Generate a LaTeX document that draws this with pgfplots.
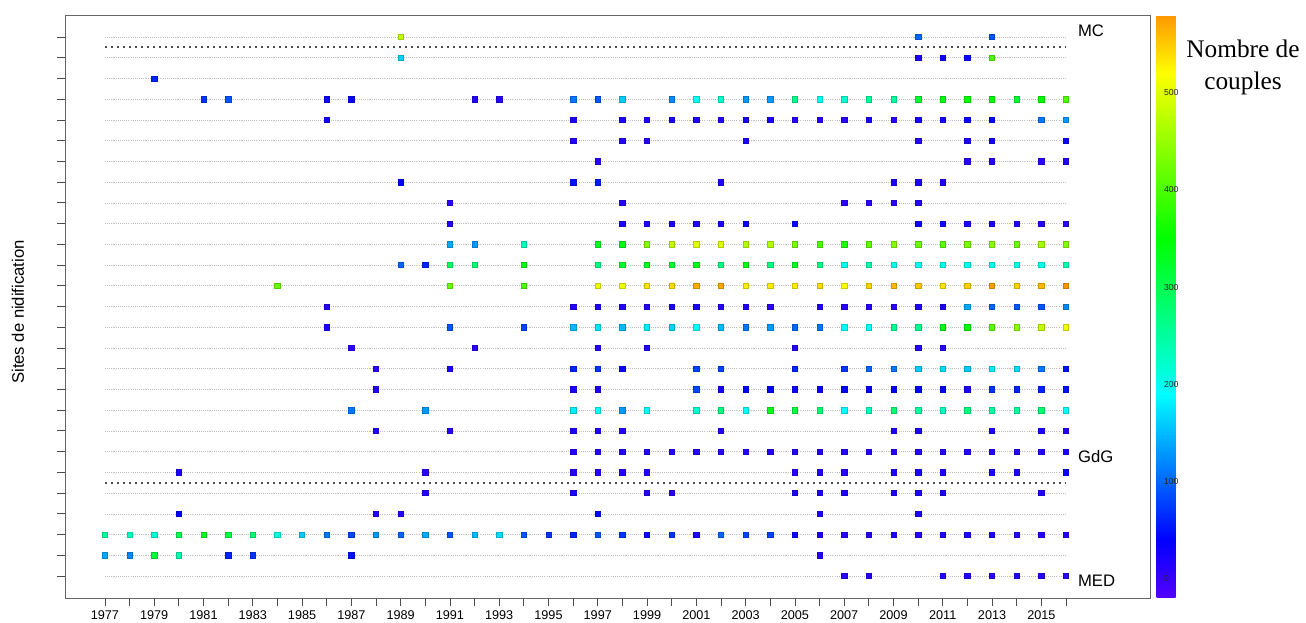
\documentclass[border=0pt]{standalone}
\usepackage{fontspec}
\setmainfont{Liberation Sans}
\newfontfamily\seriffont{Liberation Serif}
\usepackage{pgfplots}
\pgfplotsset{compat=1.18}
\usepackage{pgfplotstable}

\pgfplotstableread{
x y c
2007 0 15
2008 0 15
2011 0 15
2012 0 15
2013 0 15
2014 0 15
2015 0 15
2016 0 15
1977 1 140
1978 1 120
1979 1 310
1980 1 240
1982 1 60
1983 1 70
1987 1 50
2006 1 15
1977 2 250
1978 2 230
1979 2 215
1980 2 300
1981 2 330
1982 2 310
1983 2 280
1984 2 210
1985 2 160
1986 2 110
1987 2 80
1988 2 130
1989 2 100
1990 2 140
1991 2 90
1992 2 150
1993 2 170
1994 2 90
1995 2 70
1996 2 60
1997 2 90
1998 2 70
1999 2 30
2000 2 70
2001 2 20
2002 2 100
2003 2 80
2004 2 80
2005 2 30
2006 2 20
2007 2 15
2008 2 15
2009 2 20
2010 2 15
2011 2 20
2012 2 20
2013 2 20
2014 2 15
2015 2 15
2016 2 15
1980 3 40
1988 3 15
1989 3 15
1997 3 45
2006 3 20
2010 3 20
1990 4 15
1996 4 20
1999 4 15
2000 4 10
2005 4 20
2006 4 20
2007 4 20
2009 4 20
2010 4 20
2011 4 20
2015 4 15
1980 5 20
1990 5 10
1996 5 15
1997 5 15
1998 5 15
1999 5 15
2005 5 15
2006 5 15
2007 5 15
2009 5 20
2010 5 20
2011 5 20
2013 5 20
2014 5 20
2016 5 30
1996 6 15
1997 6 15
1998 6 15
1999 6 15
2000 6 15
2001 6 15
2002 6 15
2003 6 15
2004 6 15
2005 6 15
2006 6 15
2007 6 15
2008 6 15
2009 6 15
2010 6 15
2011 6 15
2012 6 15
2013 6 15
2014 6 15
2015 6 15
2016 6 20
1988 7 15
1991 7 15
1996 7 20
1997 7 20
1998 7 15
2002 7 15
2009 7 20
2010 7 20
2013 7 20
2015 7 20
2016 7 15
1987 8 110
1990 8 130
1996 8 180
1997 8 190
1998 8 130
1999 8 190
2001 8 220
2002 8 270
2003 8 190
2004 8 330
2005 8 310
2006 8 280
2007 8 190
2008 8 230
2009 8 280
2010 8 250
2011 8 230
2012 8 270
2013 8 250
2014 8 250
2015 8 280
2016 8 190
1988 9 15
1996 9 20
1997 9 20
2001 9 80
2002 9 25
2003 9 40
2004 9 40
2005 9 30
2006 9 30
2007 9 40
2008 9 40
2009 9 40
2010 9 40
2011 9 40
2012 9 20
2013 9 70
2014 9 60
2015 9 60
2016 9 50
1988 10 10
1991 10 20
1996 10 60
1997 10 70
1998 10 30
2001 10 80
2002 10 80
2005 10 60
2007 10 70
2008 10 100
2009 10 110
2010 10 160
2011 10 170
2012 10 160
2013 10 180
2014 10 170
2015 10 110
2016 10 50
1987 11 10
1992 11 10
1997 11 15
1999 11 15
2005 11 15
2010 11 15
2011 11 15
1986 12 20
1991 12 90
1994 12 80
1996 12 150
1997 12 175
1998 12 150
1999 12 180
2000 12 165
2001 12 190
2002 12 150
2003 12 110
2004 12 130
2005 12 100
2006 12 110
2007 12 190
2008 12 190
2009 12 260
2010 12 260
2011 12 340
2012 12 350
2013 12 410
2014 12 440
2015 12 480
2016 12 510
1986 13 15
1996 13 15
1997 13 20
1998 13 15
1999 13 15
2000 13 20
2001 13 20
2002 13 15
2003 13 15
2004 13 10
2006 13 15
2007 13 15
2008 13 15
2009 13 10
2010 13 20
2011 13 20
2012 13 140
2013 13 100
2014 13 90
2015 13 90
2016 13 120
1984 14 420
1991 14 420
1994 14 400
1997 14 510
1998 14 510
1999 14 535
2000 14 540
2001 14 565
2002 14 570
2003 14 530
2004 14 530
2005 14 530
2006 14 540
2007 14 520
2008 14 545
2009 14 560
2010 14 550
2011 14 535
2012 14 545
2013 14 575
2014 14 545
2015 14 560
2016 14 580
1989 15 100
1990 15 60
1991 15 290
1992 15 280
1994 15 340
1997 15 270
1998 15 320
1999 15 330
2000 15 320
2001 15 330
2002 15 270
2003 15 340
2004 15 270
2005 15 330
2006 15 270
2007 15 200
2008 15 240
2009 15 200
2010 15 200
2011 15 200
2012 15 200
2013 15 200
2014 15 200
2015 15 200
2016 15 240
1991 16 140
1992 16 130
1994 16 230
1997 16 330
1998 16 340
1999 16 440
2000 16 480
2001 16 500
2002 16 500
2003 16 470
2004 16 470
2005 16 430
2006 16 400
2007 16 370
2008 16 410
2009 16 440
2010 16 420
2011 16 410
2012 16 430
2013 16 440
2014 16 420
2015 16 460
2016 16 440
1991 17 15
1998 17 20
1999 17 20
2000 17 25
2001 17 20
2002 17 20
2003 17 30
2005 17 30
2010 17 30
2011 17 30
2012 17 20
2013 17 25
2014 17 20
2015 17 15
2016 17 15
1991 18 10
1998 18 15
2007 18 10
2008 18 10
2009 18 10
2010 18 15
1989 19 40
1996 19 50
1997 19 55
2002 19 20
2009 19 20
2010 19 20
2011 19 20
1997 20 15
2012 20 10
2013 20 15
2015 20 10
2016 20 15
1996 21 15
1998 21 15
1999 21 15
2003 21 20
2010 21 15
2012 21 20
2013 21 25
2016 21 30
1986 22 25
1996 22 20
1998 22 20
1999 22 15
2000 22 25
2001 22 20
2002 22 15
2003 22 20
2004 22 20
2005 22 15
2006 22 10
2007 22 15
2008 22 20
2009 22 15
2010 22 20
2011 22 25
2012 22 30
2013 22 40
2015 22 110
2016 22 130
1981 23 70
1982 23 90
1986 23 30
1987 23 35
1992 23 15
1993 23 15
1996 23 110
1997 23 90
1998 23 160
2000 23 120
2001 23 200
2002 23 220
2003 23 130
2004 23 130
2005 23 260
2006 23 200
2007 23 220
2008 23 250
2009 23 250
2010 23 320
2011 23 340
2012 23 350
2013 23 350
2014 23 320
2015 23 350
2016 23 400
1979 24 60
1989 25 165
2010 25 20
2011 25 30
2012 25 30
2013 25 400
1989 26 480
2010 26 100
2013 26 90
}\data

\begin{document}
\begin{tikzpicture}
\path[use as bounding box] (0,0) rectangle (979.5pt,466.5pt);
\begin{axis}[
  at={(48.75pt,18pt)}, anchor=south west,
  scale only axis, width=813.75pt, height=437.25pt,
  xmin=1975.38, xmax=2019.41, ymin=-1.06, ymax=27.06,
  axis line style={gray!80!black, line width=0.6pt},
  xtick={1977,1979,...,2015}, minor xtick={1978,1980,...,2016},
  ytick={0,...,26}, yticklabels={},
  tick align=outside, xtick pos=bottom, ytick pos=left,
  major tick length=6pt, minor tick length=6pt,
  tick style={black!70, line width=0.6pt},
  xticklabel style={font=\fontsize{9.5}{11}\selectfont, /pgf/number format/1000 sep={}, /pgf/number format/assume math mode=true},
  colormap={rb}{rgb255(0cm)=(85,0,255) rgb255(6cm)=(0,0,255) rgb255(21cm)=(0,255,255) rgb255(37cm)=(0,255,0) rgb255(54cm)=(255,255,0) rgb255(60cm)=(255,150,0)},
  point meta min=-20, point meta max=580,
  colorbar,
  colorbar style={at={(parent axis.north east)}, anchor=north west, xshift=-3.5pt,
    scale only axis, width=18pt,
    ytick={0,100,...,500}, axis line style={draw=none}, major tick length=0pt,
    yticklabel style={font=\fontsize{6.5}{7}\selectfont, text=black!85, /pgf/number format/assume math mode=true, xshift=-16pt}},
  clip=false,
]
\pgfplotsinvokeforeach{0,...,26}{
  \draw[gray!50, line width=0.4pt, dash pattern=on 0.8pt off 0.8pt] (axis cs:1977,#1) -- (axis cs:2016,#1);
}
\draw[black!70, line width=1.5pt, dash pattern=on 1.5pt off 3pt] (axis cs:1977,25.5) -- (axis cs:2016,25.5);
\draw[black!70, line width=1.5pt, dash pattern=on 1.5pt off 3pt] (axis cs:1977,4.5) -- (axis cs:2016,4.5);
\addplot[scatter, only marks, mark=square*, mark size=2pt, scatter src=explicit] table[x=x,y=y,meta=c]{\data};
\node[anchor=west, font=\fontsize{12.5}{14}\selectfont] at (axis cs:2016.3,26.3) {MC};
\node[anchor=west, font=\fontsize{12.5}{14}\selectfont] at (axis cs:2016.3,5.75) {GdG};
\node[anchor=west, font=\fontsize{12.5}{14}\selectfont] at (axis cs:2016.3,-0.25) {MED};
\end{axis}
\node[rotate=90, font=\fontsize{12.5}{14}\selectfont] at (13.5pt,232.5pt) {Sites de nidification};
\node[align=center, font=\seriffont\fontsize{19}{24}\selectfont] at (932.25pt,416pt) {Nombre de\\couples};
\end{tikzpicture}
\end{document}
